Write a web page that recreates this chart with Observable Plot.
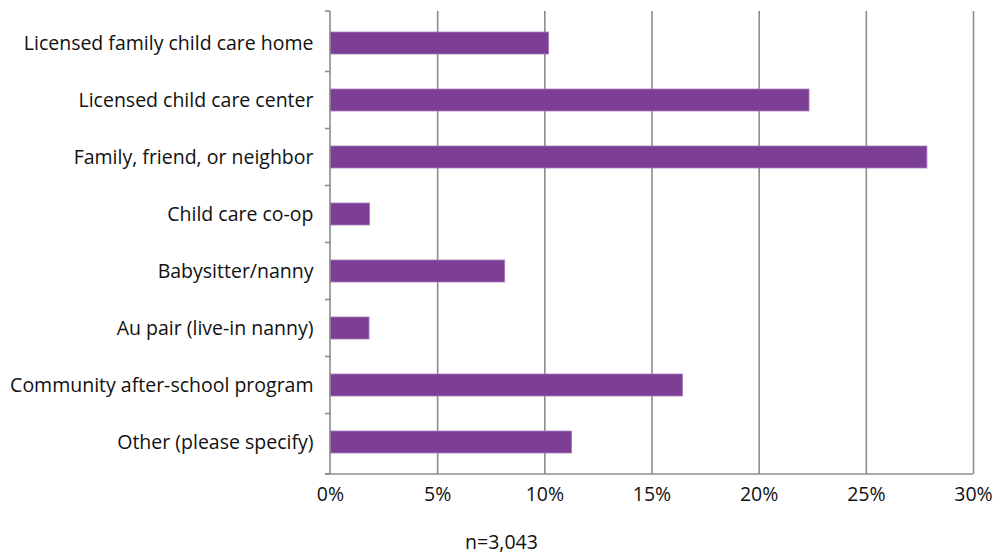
<!DOCTYPE html>
<html>
<head>
<meta charset="utf-8">
<script src="https://cdn.jsdelivr.net/npm/d3@7"></script>
<script src="https://cdn.jsdelivr.net/npm/@observablehq/plot@0.6"></script>
<style>
  html, body { margin: 0; padding: 0; background: #fff; }
  #chart { width: 995px; height: 520px; }
  #chart svg { display: block; }
  #caption { width: 995px; text-align: center; font-family: "Open Sans", sans-serif; font-size: 19.5px; line-height: 22px; color: #111; margin-left: 4px; margin-top: 11px; }
</style>
</head>
<body>
<div id="chart"></div>
<div id="caption"></div>
<script>
const categories = [
  "Licensed family child care home",
  "Licensed child care center",
  "Family, friend, or neighbor",
  "Child care co-op",
  "Babysitter/nanny",
  "Au pair (live-in nanny)",
  "Community after-school program",
  "Other (please specify)"
];
const values = [10.2, 22.35, 27.85, 1.85, 8.15, 1.82, 16.45, 11.27];
const xTicks = [0, 5, 10, 15, 20, 25, 30];
const captionText = "n=3,043";

const data = categories.map((c, i) => ({category: c, value: values[i]}));

const axisColor = "#8c8c8c";

function frameLines(index, scales, values, dims) {
  const {x, y} = scales;
  const g = d3.create("svg:g").attr("stroke", axisColor).attr("stroke-width", 1.6).attr("fill", "none");
  const top = dims.marginTop;
  const bottom = dims.height - dims.marginBottom;
  const right = dims.width - dims.marginRight;
  const x0 = x(0);
  const bw = y.bandwidth ? y.bandwidth() : 0;
  const bounds = [top];
  for (let i = 1; i < categories.length; i++) {
    bounds.push((y(categories[i - 1]) + y(categories[i])) / 2 + bw / 2);
  }
  bounds.push(bottom);
  g.append("line").attr("x1", x0).attr("x2", x0).attr("y1", top).attr("y2", bottom);
  g.append("line").attr("x1", x0 - 5).attr("x2", right).attr("y1", bottom).attr("y2", bottom);
  for (const b of bounds) {
    g.append("line").attr("x1", x0 - 5).attr("x2", x0).attr("y1", b).attr("y2", b);
  }
  return g.node();
}

const chart = Plot.plot({
  width: 995,
  height: 520,
  marginTop: 11,
  marginBottom: 46,
  marginLeft: 330,
  marginRight: 22,
  style: {fontFamily: "'Open Sans', sans-serif", fontSize: "19.5px", color: "#111", background: "#fff"},
  x: {domain: [0, 30]},
  y: {domain: categories, paddingInner: 0.62, paddingOuter: 0.31},
  marks: [
    Plot.ruleX(xTicks.filter(d => d > 0), {stroke: axisColor, strokeWidth: 1.6}),
    Plot.barX(data, {x: "value", y: "category", fill: "#7d3e96", stroke: "#a77cba", strokeWidth: 0.8}),
    frameLines,
    Plot.axisX({ticks: xTicks, tickFormat: d => d + "%", tickSize: 0, tickPadding: 13, fontSize: 19.5, label: null}),
    Plot.axisY({tickSize: 0, tickPadding: 17, fontSize: 19.5, label: null})
  ]
});
document.getElementById("chart").appendChild(chart);
document.getElementById("caption").textContent = captionText;
</script>
</body>
</html>
